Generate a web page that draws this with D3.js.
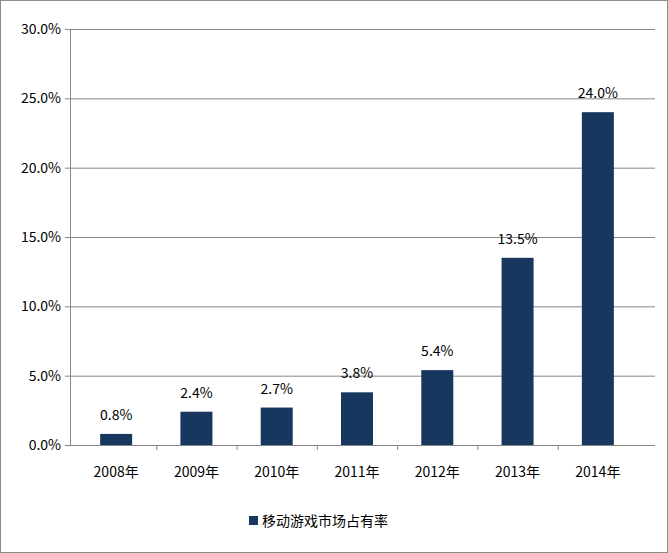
<!DOCTYPE html>
<meta charset="utf-8">
<script src="https://d3js.org/d3.v7.min.js"></script>
<style>
  body { margin: 0; background: #fff; }
  text { font-family: "Noto Sans CJK SC", "DejaVu Sans", sans-serif; fill: #000; }
</style>
<div id="viz"></div>
<script>
  // data
  const years = ["2008年", "2009年", "2010年", "2011年", "2012年", "2013年", "2014年"];
  const share = [0.8, 2.4, 2.7, 3.8, 5.4, 13.5, 24.0];
  const yTicks = [0, 5, 10, 15, 20, 25, 30];
  const seriesName = "移动游戏市场占有率";

  const W = 668, H = 553;
  const margin = {top: 29, right: 13, bottom: 108, left: 70},
      width = W - margin.left - margin.right,
      height = H - margin.top - margin.bottom;

  const root = d3.select("#viz").append("svg")
    .attr("width", W).attr("height", H);

  // outer border
  root.append("rect")
    .attr("x", 0.5).attr("y", 0.5).attr("width", W - 1).attr("height", H - 1)
    .attr("fill", "none").attr("stroke", "#8c8c8c");

  const svg = root.append("g")
    .attr("transform", `translate(${margin.left},${margin.top})`);

  const x = d3.scaleBand().domain(years).range([6, 568]);
  const y = d3.scaleLinear().domain([0, 30]).range([height, 0]);

  // grid lines
  svg.selectAll(".grid")
    .data(yTicks.slice(1))
    .enter().append("line")
      .attr("x1", 0).attr("x2", width)
      .attr("y1", d => y(d) + 0.5).attr("y2", d => y(d) + 0.5)
      .attr("stroke", "#868686");

  // y axis
  const yAxis = svg.append("g")
    .call(d3.axisLeft(y).tickValues(yTicks).tickFormat(d => d.toFixed(1) + "%").tickSize(5).tickPadding(4));
  yAxis.select(".domain").attr("stroke", "#868686");
  yAxis.selectAll("line").attr("stroke", "#868686");
  yAxis.selectAll("text").style("font-size", "14px");

  // x axis
  svg.append("line")
    .attr("x1", 0).attr("x2", width)
    .attr("y1", height + 0.5).attr("y2", height + 0.5)
    .attr("stroke", "#868686");
  const xAxis = svg.append("g")
    .attr("transform", `translate(0,${height})`)
    .call(d3.axisBottom(x).tickSize(0).tickPadding(22));
  xAxis.select(".domain").remove();
  xAxis.selectAll("text").style("font-size", "14px");
  svg.append("g").selectAll("line")
    .data(years.slice(1))
    .enter().append("line")
      .attr("x1", d => x(d) + 0.5).attr("x2", d => x(d) + 0.5)
      .attr("y1", height).attr("y2", height + 5)
      .attr("stroke", "#868686");

  const bw = 32;
  svg.selectAll(".bar")
    .data(share)
    .enter().append("rect")
      .attr("x", (d, i) => x(years[i]) + x.bandwidth() / 2 - bw / 2)
      .attr("width", bw)
      .attr("y", d => y(d))
      .attr("height", d => height - y(d))
      .attr("fill", "#17375E");

  svg.selectAll(".lbl")
    .data(share)
    .enter().append("text")
      .attr("x", (d, i) => x(years[i]) + x.bandwidth() / 2)
      .attr("y", d => y(d) - 14)
      .attr("text-anchor", "middle")
      .style("font-size", "14px")
      .text(d => d.toFixed(1) + "%");

  // legend
  const lg = root.append("g").attr("transform", "translate(249,521)");
  lg.append("rect").attr("x", 0).attr("y", -5).attr("width", 9).attr("height", 9).attr("fill", "#17375E");
  lg.append("text").attr("x", 13).attr("y", 5).style("font-size", "14px").text(seriesName);
</script>
